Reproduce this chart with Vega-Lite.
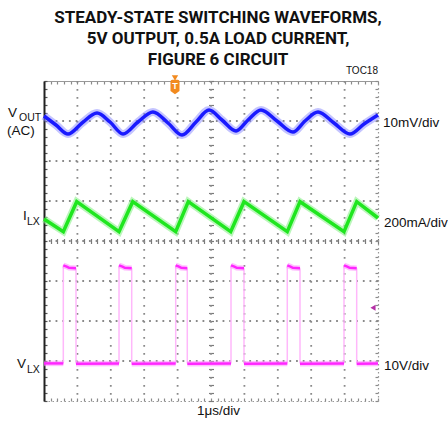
{
  "$schema": "https://vega.github.io/schema/vega-lite/v6.json",
  "width": 334,
  "height": 320,
  "autosize": "none",
  "padding": {"left": 44, "top": 81, "right": 70, "bottom": 20},
  "background": "white",
  "view": {"stroke": null},
  "title": {
    "text": ["STEADY-STATE SWITCHING WAVEFORMS,", "5V OUTPUT, 0.5A LOAD CURRENT,", "FIGURE 6 CIRCUIT"],
    "font": "Roboto",
    "fontSize": 17,
    "fontWeight": "bold",
    "lineHeight": 21,
    "anchor": "middle",
    "frame": "group",
    "dx": 7,
    "offset": -3,
    "color": "#111111"
  },
  "datasets": {
    "wave": [
      {"ch": "vout", "t": 0, "v": 7.125},
      {"ch": "vout", "t": 0.359, "v": 6.9},
      {"ch": "vout", "t": 0.719, "v": 6.675},
      {"ch": "vout", "t": 1.138, "v": 6.95},
      {"ch": "vout", "t": 1.587, "v": 7.2},
      {"ch": "vout", "t": 1.976, "v": 6.975},
      {"ch": "vout", "t": 2.365, "v": 6.675},
      {"ch": "vout", "t": 2.814, "v": 6.975},
      {"ch": "vout", "t": 3.263, "v": 7.225},
      {"ch": "vout", "t": 3.713, "v": 6.95},
      {"ch": "vout", "t": 4.132, "v": 6.65},
      {"ch": "vout", "t": 4.551, "v": 6.975},
      {"ch": "vout", "t": 4.94, "v": 7.275},
      {"ch": "vout", "t": 5.329, "v": 7.025},
      {"ch": "vout", "t": 5.749, "v": 6.75},
      {"ch": "vout", "t": 6.108, "v": 7.025},
      {"ch": "vout", "t": 6.497, "v": 7.275},
      {"ch": "vout", "t": 6.976, "v": 7.0},
      {"ch": "vout", "t": 7.455, "v": 6.725},
      {"ch": "vout", "t": 7.814, "v": 7.0},
      {"ch": "vout", "t": 8.204, "v": 7.225},
      {"ch": "vout", "t": 8.683, "v": 6.95},
      {"ch": "vout", "t": 9.162, "v": 6.675},
      {"ch": "vout", "t": 9.581, "v": 6.925},
      {"ch": "vout", "t": 10, "v": 7.15},
      {"ch": "ilx", "t": 0, "v": 4.55},
      {"ch": "ilx", "t": 0.578, "v": 4.233},
      {"ch": "ilx", "t": 0.979, "v": 4.983},
      {"ch": "ilx", "t": 2.246, "v": 4.233},
      {"ch": "ilx", "t": 2.656, "v": 4.983},
      {"ch": "ilx", "t": 3.943, "v": 4.233},
      {"ch": "ilx", "t": 4.32, "v": 4.983},
      {"ch": "ilx", "t": 5.59, "v": 4.233},
      {"ch": "ilx", "t": 5.988, "v": 4.983},
      {"ch": "ilx", "t": 7.284, "v": 4.233},
      {"ch": "ilx", "t": 7.665, "v": 4.983},
      {"ch": "ilx", "t": 8.982, "v": 4.233},
      {"ch": "ilx", "t": 9.362, "v": 4.983},
      {"ch": "ilx", "t": 10, "v": 4.575},
      {"ch": "vlx", "seg": 0, "t": 0, "v": 0.94},
      {"ch": "vlx", "seg": 0, "t": 0.578, "v": 0.94},
      {"ch": "vlx", "seg": 1, "t": 0.578, "v": 3.39},
      {"ch": "vlx", "seg": 1, "t": 0.68, "v": 3.36},
      {"ch": "vlx", "seg": 1, "t": 0.75, "v": 3.33},
      {"ch": "vlx", "seg": 1, "t": 0.958, "v": 3.32},
      {"ch": "vlx", "seg": 2, "t": 0.958, "v": 0.93},
      {"ch": "vlx", "seg": 2, "t": 2.246, "v": 0.94},
      {"ch": "vlx", "seg": 3, "t": 2.246, "v": 3.39},
      {"ch": "vlx", "seg": 3, "t": 2.35, "v": 3.36},
      {"ch": "vlx", "seg": 3, "t": 2.42, "v": 3.33},
      {"ch": "vlx", "seg": 3, "t": 2.626, "v": 3.32},
      {"ch": "vlx", "seg": 4, "t": 2.626, "v": 0.93},
      {"ch": "vlx", "seg": 4, "t": 3.943, "v": 0.94},
      {"ch": "vlx", "seg": 5, "t": 3.943, "v": 3.39},
      {"ch": "vlx", "seg": 5, "t": 4.04, "v": 3.36},
      {"ch": "vlx", "seg": 5, "t": 4.11, "v": 3.33},
      {"ch": "vlx", "seg": 5, "t": 4.29, "v": 3.32},
      {"ch": "vlx", "seg": 6, "t": 4.29, "v": 0.93},
      {"ch": "vlx", "seg": 6, "t": 5.599, "v": 0.94},
      {"ch": "vlx", "seg": 7, "t": 5.599, "v": 3.39},
      {"ch": "vlx", "seg": 7, "t": 5.7, "v": 3.36},
      {"ch": "vlx", "seg": 7, "t": 5.77, "v": 3.33},
      {"ch": "vlx", "seg": 7, "t": 5.988, "v": 3.32},
      {"ch": "vlx", "seg": 8, "t": 5.988, "v": 0.93},
      {"ch": "vlx", "seg": 8, "t": 7.284, "v": 0.94},
      {"ch": "vlx", "seg": 9, "t": 7.284, "v": 3.39},
      {"ch": "vlx", "seg": 9, "t": 7.38, "v": 3.36},
      {"ch": "vlx", "seg": 9, "t": 7.45, "v": 3.33},
      {"ch": "vlx", "seg": 9, "t": 7.665, "v": 3.32},
      {"ch": "vlx", "seg": 10, "t": 7.665, "v": 0.93},
      {"ch": "vlx", "seg": 10, "t": 8.982, "v": 0.94},
      {"ch": "vlx", "seg": 11, "t": 8.982, "v": 3.39},
      {"ch": "vlx", "seg": 11, "t": 9.08, "v": 3.36},
      {"ch": "vlx", "seg": 11, "t": 9.15, "v": 3.33},
      {"ch": "vlx", "seg": 11, "t": 9.362, "v": 3.32},
      {"ch": "vlx", "seg": 12, "t": 9.362, "v": 0.93},
      {"ch": "vlx", "seg": 12, "t": 10, "v": 0.94}
    ],
    "edges": [
      {"t": 0.578, "lo": 0.94, "hi": 3.39},
      {"t": 0.958, "lo": 0.94, "hi": 3.32},
      {"t": 2.246, "lo": 0.94, "hi": 3.39},
      {"t": 2.626, "lo": 0.94, "hi": 3.32},
      {"t": 3.943, "lo": 0.94, "hi": 3.39},
      {"t": 4.29, "lo": 0.94, "hi": 3.32},
      {"t": 5.599, "lo": 0.94, "hi": 3.39},
      {"t": 5.988, "lo": 0.94, "hi": 3.32},
      {"t": 7.284, "lo": 0.94, "hi": 3.39},
      {"t": 7.665, "lo": 0.94, "hi": 3.32},
      {"t": 8.982, "lo": 0.94, "hi": 3.39},
      {"t": 9.362, "lo": 0.94, "hi": 3.32}
    ],
    "vgrid": [
      {"t": 1}, {"t": 2}, {"t": 3}, {"t": 4}, {"t": 5}, {"t": 6}, {"t": 7}, {"t": 8}, {"t": 9}
    ],
    "hgrid": [
      {"v": 1}, {"v": 2}, {"v": 3}, {"v": 4}, {"v": 5}, {"v": 6}, {"v": 7}
    ],
    "labels": [
      {"text": "V", "t": -1.078, "v": 7.1},
      {"text": "(AC)", "t": -1.108, "v": 6.64},
      {"text": "I", "t": -0.629, "v": 4.525},
      {"text": "V", "t": -0.808, "v": 0.825},
      {"text": "10mV/div", "t": 10.15, "v": 6.85},
      {"text": "200mA/div", "t": 10.18, "v": 4.35},
      {"text": "10V/div", "t": 10.18, "v": 0.775},
      {"text": "1μs/div", "t": 4.581, "v": -0.35}
    ],
    "subs": [
      {"text": "OUT", "t": -0.749, "v": 6.99},
      {"text": "LX", "t": -0.509, "v": 4.4},
      {"text": "LX", "t": -0.509, "v": 0.7}
    ]
  },
  "resolve": {"axis": {"x": "independent", "y": "independent"}},
  "layer": [
    {
      "data": {"name": "vgrid"},
      "mark": {"type": "rule", "stroke": "#8a8a8a", "strokeWidth": 1.8, "strokeDash": [1.8, 6.2]},
      "encoding": {
        "x": {"field": "t", "type": "quantitative", "scale": {"domain": [0, 10], "nice": false, "zero": false},
          "axis": {"orient": "bottom", "tickCount": 50, "tickSize": -3, "tickWidth": 1.2, "tickColor": "#8a8a8a", "tickOpacity": 1, "domainColor": "#999999", "domainOpacity": 1, "domainWidth": 1.2, "domainDash": [1.5, 2.5], "labels": false, "grid": false, "title": null}}
      }
    },
    {
      "data": {"name": "hgrid"},
      "mark": {"type": "rule", "stroke": "#8a8a8a", "strokeWidth": 1.8, "strokeDash": [1.8, 4.88]},
      "encoding": {
        "y": {"field": "v", "type": "quantitative", "scale": {"domain": [0, 8], "nice": false, "zero": false},
          "axis": {"orient": "left", "tickCount": 40, "tickSize": -3, "tickWidth": 1.2, "tickColor": "#555555", "tickOpacity": 1, "domainColor": "#222222", "domainOpacity": 1, "domainWidth": 2, "labels": false, "grid": false, "title": null}}
      }
    },
    {
      "data": {"name": "wave"},
      "transform": [{"filter": "datum.ch === 'vout'"}],
      "mark": {"type": "line", "interpolate": "monotone", "stroke": "#8a8aff", "strokeWidth": 8, "opacity": 0.5},
      "encoding": {
        "x": {"field": "t", "type": "quantitative", "scale": {"domain": [0, 10], "nice": false, "zero": false},
          "axis": {"orient": "top", "tickCount": 50, "tickSize": -3, "tickWidth": 1.2, "tickColor": "#8a8a8a", "tickOpacity": 1, "domainColor": "#999999", "domainOpacity": 1, "domainWidth": 1.2, "labels": false, "grid": false, "title": null}},
        "y": {"field": "v", "type": "quantitative", "scale": {"domain": [0, 8], "nice": false, "zero": false},
          "axis": {"orient": "right", "tickCount": 40, "tickSize": -3, "tickWidth": 1.2, "tickColor": "#8a8a8a", "tickOpacity": 1, "domainColor": "#999999", "domainOpacity": 1, "domainWidth": 1.2, "domainDash": [1.5, 2.5], "labels": false, "grid": false, "title": null}}
      }
    },
    {
      "data": {"name": "wave"},
      "transform": [{"filter": "datum.ch === 'vout'"}],
      "mark": {"type": "line", "interpolate": "monotone", "stroke": "#1a1aff", "strokeWidth": 3.5},
      "encoding": {
        "x": {"field": "t", "type": "quantitative", "scale": {"domain": [0, 10], "nice": false, "zero": false},
          "axis": {"orient": "top", "offset": -162.5, "tickCount": 50, "tickSize": 5, "tickWidth": 1.2, "tickColor": "#7a7a7a", "tickOpacity": 1, "labels": false, "domain": false, "grid": false, "title": null}},
        "y": {"field": "v", "type": "quantitative", "scale": {"domain": [0, 8], "nice": false, "zero": false},
          "axis": {"orient": "right", "offset": -169.5, "tickCount": 40, "tickSize": 5, "tickWidth": 1.2, "tickColor": "#7a7a7a", "tickOpacity": 1, "labels": false, "domain": false, "grid": false, "title": null}}
      }
    },
    {
      "data": {"name": "wave"},
      "transform": [{"filter": "datum.ch === 'ilx'"}],
      "mark": {"type": "line", "stroke": "#8ef08e", "strokeWidth": 7, "opacity": 0.6},
      "encoding": {
        "x": {"field": "t", "type": "quantitative", "scale": {"domain": [0, 10], "nice": false, "zero": false}, "axis": null},
        "y": {"field": "v", "type": "quantitative", "scale": {"domain": [0, 8], "nice": false, "zero": false}, "axis": null}
      }
    },
    {
      "data": {"name": "wave"},
      "transform": [{"filter": "datum.ch === 'ilx'"}],
      "mark": {"type": "line", "stroke": "#1fe61f", "strokeWidth": 3.5},
      "encoding": {
        "x": {"field": "t", "type": "quantitative", "scale": {"domain": [0, 10], "nice": false, "zero": false}, "axis": null},
        "y": {"field": "v", "type": "quantitative", "scale": {"domain": [0, 8], "nice": false, "zero": false}, "axis": null}
      }
    },
    {
      "data": {"name": "edges"},
      "mark": {"type": "rule", "stroke": "#ffb8fb", "strokeWidth": 1.5},
      "encoding": {
        "x": {"field": "t", "type": "quantitative", "scale": {"domain": [0, 10], "nice": false, "zero": false}, "axis": null},
        "y": {"field": "lo", "type": "quantitative", "scale": {"domain": [0, 8], "nice": false, "zero": false}, "axis": null},
        "y2": {"field": "hi"}
      }
    },
    {
      "data": {"name": "wave"},
      "transform": [{"filter": "datum.ch === 'vlx'"}],
      "mark": {"type": "line", "stroke": "#ff8cff", "strokeWidth": 5.5, "opacity": 0.55},
      "encoding": {
        "x": {"field": "t", "type": "quantitative", "scale": {"domain": [0, 10], "nice": false, "zero": false}, "axis": null},
        "y": {"field": "v", "type": "quantitative", "scale": {"domain": [0, 8], "nice": false, "zero": false}, "axis": null},
        "detail": {"field": "seg", "type": "nominal"}
      }
    },
    {
      "data": {"name": "wave"},
      "transform": [{"filter": "datum.ch === 'vlx'"}],
      "mark": {"type": "line", "stroke": "#ff26ff", "strokeWidth": 2.5},
      "encoding": {
        "x": {"field": "t", "type": "quantitative", "scale": {"domain": [0, 10], "nice": false, "zero": false}, "axis": null},
        "y": {"field": "v", "type": "quantitative", "scale": {"domain": [0, 8], "nice": false, "zero": false}, "axis": null},
        "detail": {"field": "seg", "type": "nominal"}
      }
    },
    {
      "data": {"values": [{"t": 3.922, "v": 8.075}]},
      "mark": {"type": "point", "shape": "triangle-down", "size": 40, "filled": true, "fill": "#f28a1e", "stroke": null, "opacity": 1},
      "encoding": {
        "x": {"field": "t", "type": "quantitative", "scale": {"domain": [0, 10], "nice": false, "zero": false}, "axis": null},
        "y": {"field": "v", "type": "quantitative", "scale": {"domain": [0, 8], "nice": false, "zero": false}, "axis": null}
      }
    },
    {
      "data": {"values": [{"t": 3.922, "v": 7.85}]},
      "mark": {"type": "point", "shape": "M -0.5 -0.6 Q -0.5 -0.8 -0.3 -0.8 L 0.3 -0.8 Q 0.5 -0.8 0.5 -0.6 L 0.5 0.45 L 0 0.8 L -0.5 0.45 Z", "size": 324, "filled": true, "fill": "#f28a1e", "stroke": null, "opacity": 1},
      "encoding": {
        "x": {"field": "t", "type": "quantitative", "scale": {"domain": [0, 10], "nice": false, "zero": false}, "axis": null},
        "y": {"field": "v", "type": "quantitative", "scale": {"domain": [0, 8], "nice": false, "zero": false}, "axis": null}
      }
    },
    {
      "data": {"values": [{"t": 3.922, "v": 7.85}]},
      "mark": {"type": "text", "text": "T", "font": "Liberation Sans", "fontSize": 9, "fontWeight": "bold", "color": "#ffffff", "align": "center", "baseline": "middle", "dy": -1},
      "encoding": {
        "x": {"field": "t", "type": "quantitative", "scale": {"domain": [0, 10], "nice": false, "zero": false}, "axis": null},
        "y": {"field": "v", "type": "quantitative", "scale": {"domain": [0, 8], "nice": false, "zero": false}, "axis": null}
      }
    },
    {
      "data": {"values": [{"t": 9.85, "v": 2.33}]},
      "mark": {"type": "point", "shape": "triangle-left", "size": 35, "filled": true, "fill": "#b52fa6", "stroke": null, "opacity": 1},
      "encoding": {
        "x": {"field": "t", "type": "quantitative", "scale": {"domain": [0, 10], "nice": false, "zero": false}, "axis": null},
        "y": {"field": "v", "type": "quantitative", "scale": {"domain": [0, 8], "nice": false, "zero": false}, "axis": null}
      }
    },
    {
      "data": {"name": "labels"},
      "mark": {"type": "text", "font": "Liberation Sans", "fontSize": 13.5, "align": "left", "baseline": "alphabetic", "color": "#111111"},
      "encoding": {
        "x": {"field": "t", "type": "quantitative", "scale": {"domain": [0, 10], "nice": false, "zero": false}, "axis": null},
        "y": {"field": "v", "type": "quantitative", "scale": {"domain": [0, 8], "nice": false, "zero": false}, "axis": null},
        "text": {"field": "text"}
      }
    },
    {
      "data": {"name": "subs"},
      "mark": {"type": "text", "font": "Liberation Sans", "fontSize": 10.5, "align": "left", "baseline": "alphabetic", "color": "#111111"},
      "encoding": {
        "x": {"field": "t", "type": "quantitative", "scale": {"domain": [0, 10], "nice": false, "zero": false}, "axis": null},
        "y": {"field": "v", "type": "quantitative", "scale": {"domain": [0, 8], "nice": false, "zero": false}, "axis": null},
        "text": {"field": "text"}
      }
    },
    {
      "data": {"values": [{"text": "TOC18", "t": 10, "v": 8.175}]},
      "mark": {"type": "text", "font": "Liberation Sans", "fontSize": 10, "align": "right", "baseline": "alphabetic", "color": "#111111"},
      "encoding": {
        "x": {"field": "t", "type": "quantitative", "scale": {"domain": [0, 10], "nice": false, "zero": false}, "axis": null},
        "y": {"field": "v", "type": "quantitative", "scale": {"domain": [0, 8], "nice": false, "zero": false}, "axis": null},
        "text": {"field": "text"}
      }
    }
  ]
}
